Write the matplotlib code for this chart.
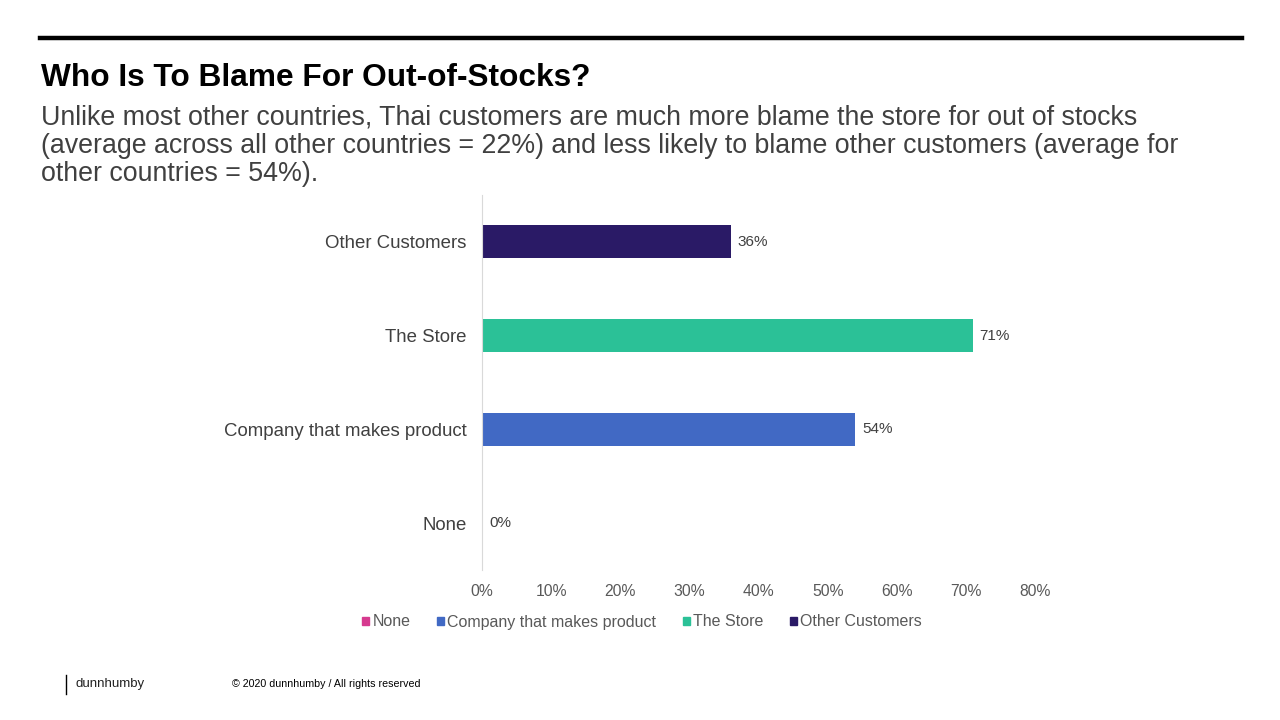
import matplotlib
matplotlib.use("Agg")
import matplotlib.pyplot as plt
from matplotlib.patches import Patch
from matplotlib.lines import Line2D

plt.rcParams['font.family'] = ['Liberation Sans', 'DejaVu Sans']

# data (bottom to top)
categories = ["None", "Company that makes product", "The Store", "Other Customers"]
values = [0, 54, 71, 36]
colors = ["#d63a8f", "#4169c4", "#2bc197", "#2a1a66"]
xticks = [0, 10, 20, 30, 40, 50, 60, 70, 80]

fig = plt.figure(figsize=(12.8, 7.2), dpi=100)

# header
fig.add_artist(Line2D([40 / 1280, 1242 / 1280], [1 - 38 / 720] * 2, color="black", lw=3.2))
fig.text(41 / 1280, 1 - 78 / 720, "Who Is To Blame For Out-of-Stocks?", fontsize=22.8,
         fontweight="bold", va="center", ha="left")
fig.text(41 / 1280, 1 - 146 / 720,
         "Unlike most other countries, Thai customers are much more blame the store for out of stocks\n"
         "(average across all other countries = 22%) and less likely to blame other customers (average for\n"
         "other countries = 54%).",
         fontsize=19.3, color="#404040", va="center", ha="left", linespacing=1.12)

ax = fig.add_axes([482 / 1280, 1 - 570 / 720, 553 / 1280, 375 / 720])
y = range(len(categories))
ax.barh(y, values, height=0.35, color=colors)
for yi, v in zip(y, values):
    ax.text(v + 1.0, yi, f"{v}%", va="center", ha="left", fontsize=11, color="#404040")

ax.set_xlim(0, 80)
ax.set_ylim(-0.5, 3.5)
ax.set_yticks(list(y))
ax.set_yticklabels(categories, fontsize=13.4, color="#404040")
ax.set_xticks(xticks)
ax.set_xticklabels([f"{t}%" for t in xticks], fontsize=11.3, color="#595959")
ax.tick_params(axis="both", length=0)
ax.tick_params(axis="x", pad=10)
ax.tick_params(axis="y", pad=11)
for s in ["top", "right", "bottom"]:
    ax.spines[s].set_visible(False)
ax.spines["left"].set_color("#d9d9d9")

handles = [Patch(color=c, label=l) for c, l in zip(colors, categories)]
fig.legend(handles=handles, loc="center", bbox_to_anchor=(642 / 1280, 1 - 622 / 720), ncol=4,
           frameon=False, fontsize=11.5, handlelength=0.45, handleheight=0.45, handletextpad=0.2,
           columnspacing=1.65, labelcolor="#595959")

# footer
fig.add_artist(Line2D([66 / 1280] * 2, [1 - 675 / 720, 1 - 694 / 720], color="black", lw=1))
fig.text(75 / 1280, 1 - 684 / 720, "dunnhumby", fontsize=9.5, va="center", ha="left",
         color="#222222")
fig.text(232 / 1280, 1 - 684 / 720, "\u00a9 2020 dunnhumby / All rights reserved", fontsize=7.7,
         va="center", ha="left")

fig.savefig("out.png", dpi=100)
